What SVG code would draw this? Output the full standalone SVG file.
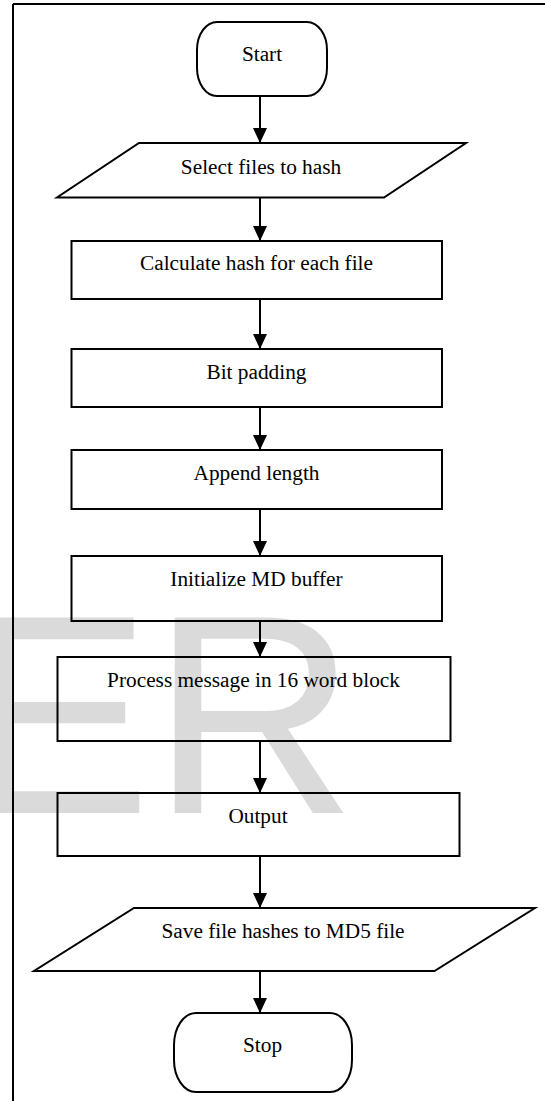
<svg xmlns="http://www.w3.org/2000/svg" width="545" height="1101" viewBox="0 0 545 1101">
<style>
.shape{fill:none;stroke:#000;stroke-width:2}
.lbl{font-family:"Liberation Serif","Times New Roman",serif;font-size:21.3px;fill:#000;text-anchor:middle}
.conn{stroke:#000;stroke-width:2;fill:none}
.wm{font-family:"Liberation Sans",Arial,sans-serif;font-size:284px;fill:#dadada}
</style>
<defs>
<marker id="ah" markerWidth="15" markerHeight="14" refX="15" refY="7" orient="auto" markerUnits="userSpaceOnUse">
<path d="M0,0 L15,7 L0,14 Z" fill="#000"/>
</marker>
</defs>
<rect width="545" height="1101" fill="#fff"/>
<text class="wm" x="-38" y="813">ER</text>
<g id="frame">
<line x1="13" y1="4" x2="545" y2="4" stroke="#000" stroke-width="2"/>
<line x1="13" y1="4" x2="13" y2="1101" stroke="#000" stroke-width="2"/>
</g>
<g id="start"><rect class="shape" x="197" y="22" width="130" height="74" rx="20" ry="28"/><text class="lbl" x="262" y="61">Start</text></g>
<g id="select"><polygon class="shape" points="139,143 466,143 384,197.5 57,197.5"/><text class="lbl" x="261" y="174">Select files to hash</text></g>
<g id="calc"><rect class="shape" x="71.5" y="241" width="370.5" height="58"/><text class="lbl" x="256.5" y="270">Calculate hash for each file</text></g>
<g id="bitpad"><rect class="shape" x="71.5" y="349" width="370.5" height="58"/><text class="lbl" x="256.5" y="379">Bit padding</text></g>
<g id="append"><rect class="shape" x="71.5" y="450" width="370.5" height="59"/><text class="lbl" x="256.5" y="480">Append length</text></g>
<g id="init"><rect class="shape" x="71.5" y="556" width="370.5" height="65"/><text class="lbl" x="256.5" y="586">Initialize MD buffer</text></g>
<g id="process"><rect class="shape" x="57.5" y="657" width="393" height="84"/><text class="lbl" x="253.5" y="687">Process message in 16 word block</text></g>
<g id="output"><rect class="shape" x="57.5" y="793" width="402" height="63"/><text class="lbl" x="258" y="823">Output</text></g>
<g id="save"><polygon class="shape" points="134,908 535,908 434.5,971 34,971"/><text class="lbl" x="283" y="938">Save file hashes to MD5 file</text></g>
<g id="stop"><rect class="shape" x="174" y="1013" width="178" height="79" rx="22" ry="32"/><text class="lbl" x="262.5" y="1052">Stop</text></g>
<g id="connectors">
<line class="conn" x1="260" y1="96" x2="260" y2="143" marker-end="url(#ah)"/>
<line class="conn" x1="260" y1="197.5" x2="260" y2="241" marker-end="url(#ah)"/>
<line class="conn" x1="260" y1="299" x2="260" y2="349" marker-end="url(#ah)"/>
<line class="conn" x1="260" y1="407" x2="260" y2="450" marker-end="url(#ah)"/>
<line class="conn" x1="260" y1="509" x2="260" y2="556" marker-end="url(#ah)"/>
<line class="conn" x1="260" y1="621" x2="260" y2="657" marker-end="url(#ah)"/>
<line class="conn" x1="260" y1="741" x2="260" y2="793" marker-end="url(#ah)"/>
<line class="conn" x1="260" y1="856" x2="260" y2="908" marker-end="url(#ah)"/>
<line class="conn" x1="260" y1="971" x2="260" y2="1013" marker-end="url(#ah)"/>
</g>
</svg>
